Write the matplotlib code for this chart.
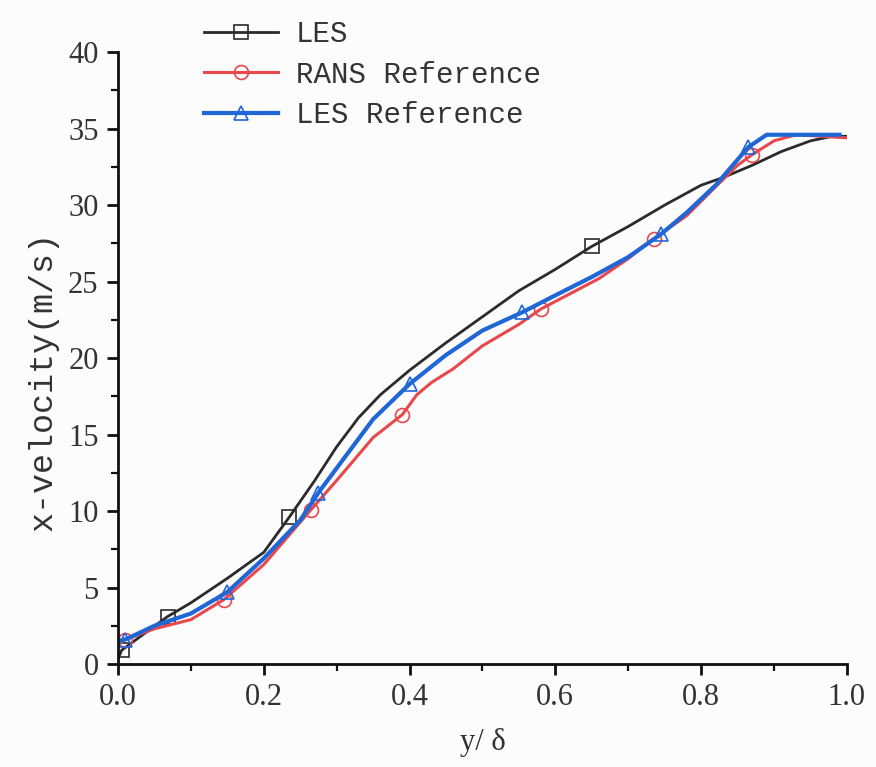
import numpy as np
import matplotlib
matplotlib.use("Agg")
import matplotlib.pyplot as plt
from matplotlib.ticker import MultipleLocator, FormatStrFormatter

# LES (black, squares)
les_x = [0.0, 0.005, 0.068, 0.10, 0.15, 0.20, 0.235, 0.27, 0.30, 0.33, 0.36, 0.40, 0.45,
         0.50, 0.55, 0.60, 0.65, 0.70, 0.75, 0.80, 0.83, 0.87, 0.91, 0.95, 0.98, 1.0]
les_y = [0.3, 0.9, 3.1, 4.0, 5.6, 7.3, 9.6, 12.0, 14.2, 16.1, 17.6, 19.2, 21.0,
         22.7, 24.4, 25.8, 27.3, 28.6, 30.0, 31.3, 31.8, 32.6, 33.5, 34.2, 34.5, 34.5]
les_mk = [0.005, 0.068, 0.235, 0.65]

# RANS Reference (red, circles)
rans_x = [0.0, 0.01, 0.05, 0.10, 0.145, 0.20, 0.265, 0.30, 0.35, 0.39, 0.41, 0.43, 0.46,
          0.50, 0.55, 0.58, 0.62, 0.66, 0.70, 0.735, 0.78, 0.82, 0.85, 0.87, 0.90,
          0.93, 1.0]
rans_y = [1.3, 1.6, 2.3, 2.9, 4.2, 6.5, 10.1, 12.0, 14.8, 16.3, 17.6, 18.4, 19.3,
          20.8, 22.2, 23.2, 24.2, 25.2, 26.5, 27.8, 29.3, 31.2, 32.6, 33.3, 34.2,
          34.6, 34.4]
rans_mk = [0.01, 0.145, 0.265, 0.39, 0.58, 0.735, 0.87]

# LES Reference (blue, triangles)
lesref_x = [0.0, 0.01, 0.05, 0.10, 0.15, 0.20, 0.25, 0.275, 0.30, 0.35, 0.40, 0.45,
            0.50, 0.555, 0.60, 0.65, 0.70, 0.745, 0.78, 0.82, 0.865, 0.89, 0.95, 0.99]
lesref_y = [1.5, 1.6, 2.5, 3.3, 4.7, 6.9, 9.4, 11.2, 12.8, 16.0, 18.3, 20.2,
            21.8, 23.0, 24.1, 25.3, 26.6, 28.1, 29.5, 31.3, 33.8, 34.6, 34.6, 34.6]
lesref_mk = [0.01, 0.15, 0.275, 0.40, 0.555, 0.745, 0.865]

x_ticks = [0.0, 0.2, 0.4, 0.6, 0.8, 1.0]
y_ticks = [0, 5, 10, 15, 20, 25, 30, 35, 40]

fig = plt.figure(figsize=(8.76, 7.67), dpi=100, facecolor="#fcfcfc")
ax = fig.add_axes([0.1347, 0.1343, 0.832, 0.7977])
ax.set_facecolor("#fcfcfc")

series = [
    (les_x, les_y, les_mk, "#2b2b2b", "s", 2.0, "LES"),
    (rans_x, rans_y, rans_mk, "#e8474c", "o", 2.2, "RANS Reference"),
    (lesref_x, lesref_y, lesref_mk, "#1f66d6", "^", 3.0, "LES Reference"),
]
for xs, ys, mk, color, marker, lw, label in series:
    xs = np.asarray(xs)
    idx = [int(np.argmin(np.abs(xs - m))) for m in mk]
    ax.plot(xs, ys, color=color, linewidth=lw, marker=marker, markevery=idx,
            markersize=10, markerfacecolor="none", markeredgecolor=color,
            markeredgewidth=1.2, label=label, solid_joinstyle="round")

ax.set_xlim(0, 1.0)
ax.set_ylim(0, 40)
ax.set_xticks(x_ticks)
ax.set_yticks(y_ticks)
ax.xaxis.set_minor_locator(MultipleLocator(0.1))
ax.yaxis.set_minor_locator(MultipleLocator(2.5))
ax.xaxis.set_major_formatter(FormatStrFormatter("%.1f"))

for side in ("top", "right"):
    ax.spines[side].set_visible(False)
for side in ("left", "bottom"):
    ax.spines[side].set_linewidth(2.0)
    ax.spines[side].set_color("#111111")

ax.tick_params(which="major", direction="out", length=8, width=2, colors="#111111",
               labelsize=22, pad=6)
ax.tick_params(which="minor", direction="out", length=5, width=1.6, colors="#111111")
for lab in ax.get_xticklabels() + ax.get_yticklabels():
    lab.set_family("Liberation Serif")
    lab.set_color("#333333")

ax.set_ylabel("x-velocity(m/s)", family="Liberation Mono", fontsize=24, color="#333333")
ax.yaxis.set_label_coords(-0.082, 0.462)
ax.set_xlabel("y/ δ", family="Liberation Serif", fontsize=22, color="#333333")
ax.xaxis.set_label_coords(0.5, -0.105)

leg = ax.legend(loc="upper left", bbox_to_anchor=(0.118, 1.052), frameon=False,
                prop={"family": "Liberation Mono", "size": 21},
                handlelength=2.55, handletextpad=0.6, labelspacing=0.42,
                borderaxespad=0, borderpad=0)
for t in leg.get_texts():
    t.set_color("#333333")

fig.savefig("out.png", dpi=100, facecolor=fig.get_facecolor())
